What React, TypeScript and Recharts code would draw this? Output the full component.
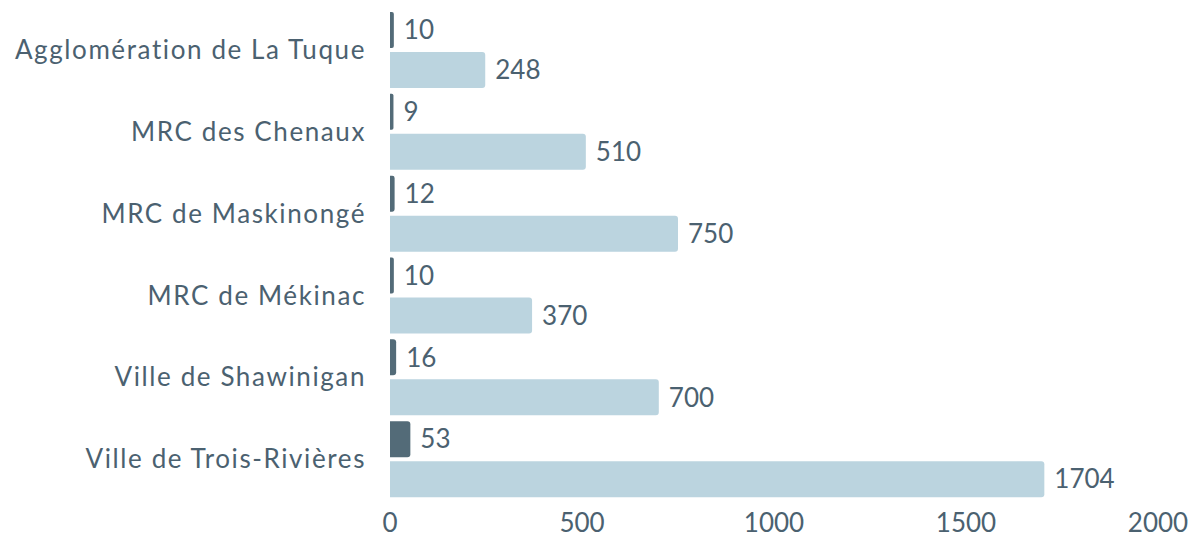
import React from "react";
import { BarChart, Bar, XAxis, YAxis, LabelList } from "recharts";

const categories = [
  "Agglomération de La Tuque",
  "MRC des Chenaux",
  "MRC de Maskinongé",
  "MRC de Mékinac",
  "Ville de Shawinigan",
  "Ville de Trois-Rivières",
];
const seriesA = [10, 9, 12, 10, 16, 53];
const seriesB = [248, 510, 750, 370, 700, 1704];
const xTicks = [0, 500, 1000, 1500, 2000];

const data = categories.map((name, i) => ({ name, a: seriesA[i], b: seriesB[i] }));

const TEXT = "#4b6170";
const FONT = "Lato, 'Open Sans', sans-serif";

export default function App() {
  return (
    <div style={{ position: "absolute", left: 0, top: 0, fontFamily: FONT }}>
      <BarChart
        width={1193}
        height={538}
        data={data}
        layout="vertical"
        margin={{ top: 9, right: 35, bottom: 0, left: 0 }}
        barCategoryGap={3}
        barGap={4}
      >
        <XAxis
          type="number"
          domain={[0, 2000]}
          ticks={xTicks}
          axisLine={false}
          tickLine={false}
          height={38}
          tickSize={0}
          tickMargin={14}
          interval={0}
          tick={{ fill: TEXT, fontSize: 26, fontFamily: FONT, fontWeight: 400 }}
        />
        <YAxis
          type="category"
          dataKey="name"
          width={390}
          axisLine={false}
          tickLine={false}
          tickSize={0}
          tickMargin={24}
          interval={0}
          tick={{ fill: TEXT, fontSize: 26, fontFamily: FONT, fontWeight: 400, letterSpacing: 1.6 }}
        />
        <Bar dataKey="a" fill="#536b78" radius={[0, 3, 3, 0]} isAnimationActive={false}>
          <LabelList dataKey="a" position="right" offset={10} fill={TEXT} fontSize={26} fontFamily={FONT} fontWeight={400} />
        </Bar>
        <Bar dataKey="b" fill="#bbd4df" radius={[0, 3, 3, 0]} isAnimationActive={false}>
          <LabelList dataKey="b" position="right" offset={10} fill={TEXT} fontSize={26} fontFamily={FONT} fontWeight={400} />
        </Bar>
      </BarChart>
    </div>
  );
}
